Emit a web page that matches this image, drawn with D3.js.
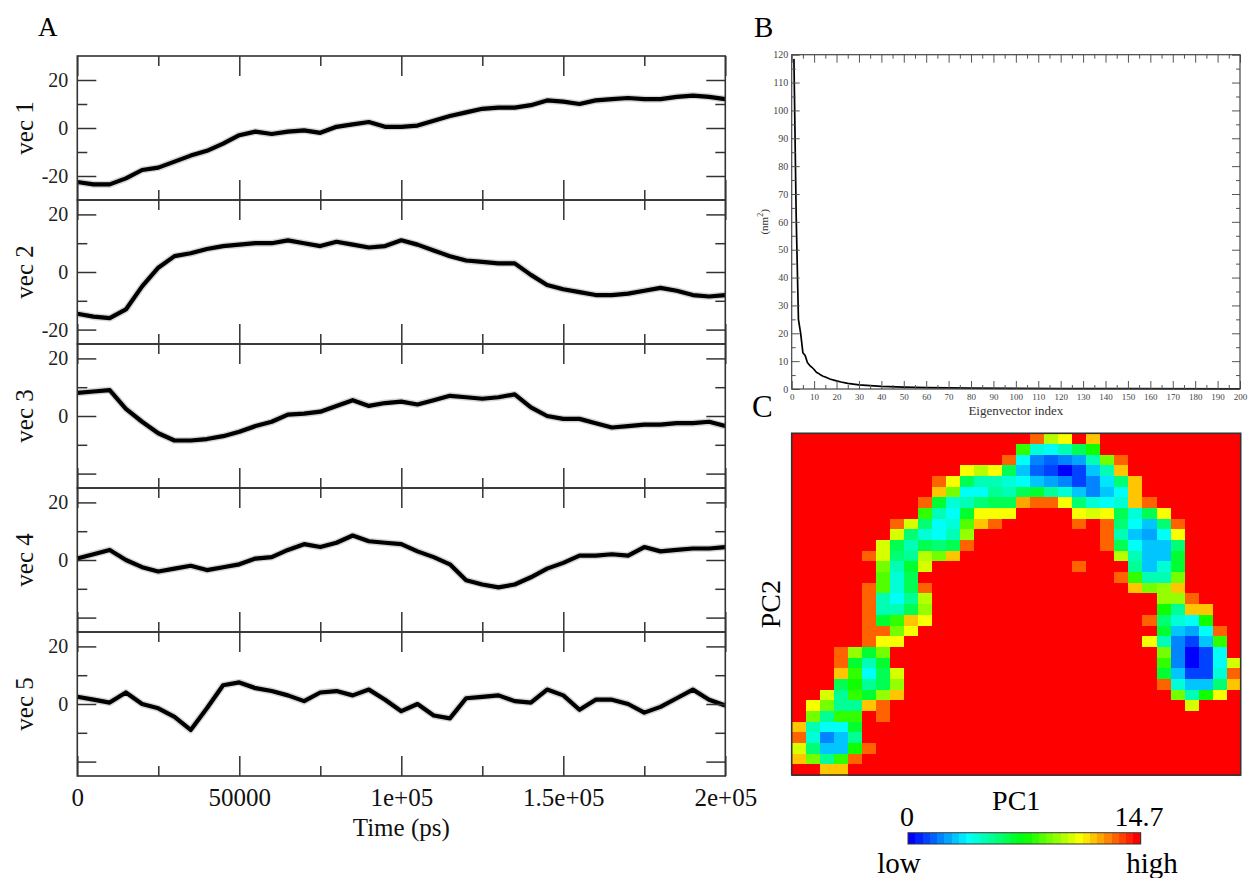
<!DOCTYPE html>
<html>
<head>
<meta charset="utf-8">
<script src="https://cdn.jsdelivr.net/npm/d3@7"></script>
<style>
  body { margin: 0; background: #fff; }
  svg text { font-family: "Liberation Serif", "Times New Roman", serif; }
</style>
</head>
<body>
<svg id="fig" width="1248" height="878"></svg>
<script>
// ---------- data: panel A, projections on eigenvectors 1-5 (sampled every 5 ns) ----------
const timeK = [0, 5, 10, 15, 20, 25, 30, 35, 40, 45, 50, 55, 60, 65, 70, 75, 80, 85, 90, 95,
  100, 105, 110, 115, 120, 125, 130, 135, 140, 145, 150, 155, 160, 165, 170, 175, 180, 185, 190, 195, 200];

const vec1 = [-22.5, -23.5, -23.5, -21, -17.5, -16.5, -14, -11.5, -9.5, -6.5, -3, -1.5, -2.5, -1.5, -1, -2,
  0.5, 1.5, 2.5, 0.5, 0.5, 1, 3, 5, 6.5, 8, 8.5, 8.5, 9.5, 11.5, 11, 10, 11.5, 12, 12.5, 12, 12, 13, 13.5, 13, 12];
const vec2 = [-14.5, -15.5, -16, -13, -5, 1.5, 5.5, 6.5, 8, 9, 9.5, 10, 10, 11, 10, 9, 10.5, 9.5, 8.5, 9,
  11, 9.5, 7.5, 5.5, 4, 3.5, 3, 3, -1, -4.5, -6, -7, -8, -8, -7.5, -6.5, -5.5, -6.5, -8, -8.5, -8];
const vec3 = [8, 8.5, 9, 2.5, -2, -6, -8.5, -8.5, -8, -7, -5.5, -3.5, -2, 0.5, 0.8, 1.5, 3.5, 5.5, 3.5, 4.5,
  5, 4, 5.5, 7, 6.5, 6, 6.5, 7.5, 3, 0, -1, -1, -2.5, -4, -3.5, -3, -3, -2.5, -2.5, -2, -3.5];
const vec4 = [0.5, 2, 3.5, 0, -2.5, -4, -3, -2, -3.5, -2.5, -1.5, 0.5, 1, 3.5, 5.5, 4.5, 6, 8.5, 6.5, 6,
  5.5, 3, 1, -1.5, -7, -8.5, -9.5, -8.5, -6, -3, -1, 1.5, 1.5, 2, 1.5, 4.5, 3, 3.5, 4, 4, 4.5];
const vec5 = [2.5, 1.5, 0.5, 4, 0, -1.5, -4.5, -9, -1.5, 6.5, 7.5, 5.5, 4.5, 3, 1, 4, 4.5, 3, 5, 1.5,
  -2.5, 0, -4, -5, 2, 2.5, 3, 1, 0.5, 5, 3, -2, 1.5, 1.5, 0, -3, -1, 2, 5, 1.5, -0.5];

const vecNames = ["vec 1", "vec 2", "vec 3", "vec 4", "vec 5"];
const vecRange = [30, 25, 25, 25, 25];
const vecTickLabels = [[20, 0, -20], [20, 0, -20], [20, 0], [20, 0], [20, 0]];
const timeTicks = [0, 50000, 100000, 150000, 200000];
const timeTickText = ["0", "50000", "1e+05", "1.5e+05", "2e+05"];

// ---------- data: panel B, eigenvalues ----------
const eigIndex = [1, 2, 3, 4, 5, 6, 7, 8, 9, 10, 11, 12, 13, 14, 15, 17, 20, 22, 25, 30, 35, 40, 50, 60, 70, 80, 100, 120, 150, 200];
const eigValue = [118.5, 62, 25, 20, 13, 12, 9.5, 8.5, 7.8, 7, 6, 5.6, 5, 4.6, 4.3, 3.6, 2.9, 2.5, 2, 1.5, 1.2, 0.95, 0.7, 0.5, 0.4, 0.3, 0.2, 0.15, 0.1, 0.05];

// ---------- data: panel C, free energy on PC1/PC2 (32 x 32 levels, '.' = max) ----------
const densityMax = 14.7;
const levelChars = "0123456789abcdefghijklmnopqrstuv";
const densityRows = [
  ".................sln.p..........",
  "................h98adg..........",
  "...............s84345ajs........",
  "............nlnd632026ap........",
  "..........sndaa98654247cp.......",
  "..........pj88badeb96468p.......",
  ".........se9acddqssnc989ps......",
  ".........ha8ennn....nmnd9dn.....",
  ".......smc89ips.....s.sc86cs....",
  ".......mc98ak.........sa658n....",
  "......mdadcds.........sd866c....",
  ".....smcbljp...........la66e....",
  "......jaem..........s...b69e....",
  "......i9d..............shaaj....",
  ".....si9ds..............pjkp....",
  ".....sa8bl................kks...",
  ".....saadk................gbpp..",
  ".....sehpn...............sc98g..",
  ".....ssjn.................e658s.",
  ".....snn.................na426h.",
  "...skej...................j4028.",
  "...seae...................h4028m",
  "...ph8dm..................e6229s",
  "...dgbdk..................s966cp",
  "..mbhekp...................jagn.",
  ".njbbps.....................m...",
  ".jbhh.s.........................",
  "pa88e...........................",
  "s946b...........................",
  "mc66gs..........................",
  "pjbhs...........................",
  "..pp............................"
];

// ---------- drawing ----------
const svg = d3.select('#fig');
svg.append('rect').attr('width', 1248).attr('height', 878).attr('fill', '#fff');

const ink = '#333';

function styleAxis(sel, size, color) {
  sel.select('.domain').remove();
  sel.attr('font-family', null).attr('font-size', null);
  sel.selectAll('line').attr('stroke', ink).attr('stroke-width', 1.5);
  sel.selectAll('text').attr('font-size', size).attr('fill', color || '#222');
}

// ===== Panel A =====
const vecSeries = [vec1, vec2, vec3, vec4, vec5];
const ax = d3.scaleLinear().domain([0, 200000]).range([77.3, 725.3]);
const aTop = 56, aH = 144;
const minorTime = [25000, 75000, 125000, 175000];

vecSeries.forEach((vals, i) => {
  const top = aTop + i * aH, bottom = top + aH;
  const y = d3.scaleLinear().domain([-vecRange[i], vecRange[i]]).range([bottom, top]);
  const g = svg.append('g');

  const line = d3.line().x((d, j) => ax(timeK[j] * 1000)).y(d => y(d));
  // soft halo to imitate the dense, noisy trajectory band
  g.append('path').datum(vals).attr('d', line)
    .attr('fill', 'none').attr('stroke', '#777').attr('stroke-width', 7).attr('stroke-opacity', 0.3)
    .attr('stroke-linejoin', 'round');
  g.append('path').datum(vals).attr('d', line)
    .attr('fill', 'none').attr('stroke', '#000').attr('stroke-width', 4.2)
    .attr('stroke-linejoin', 'round');

  // y ticks, left and right, pointing inward
  g.append('g').attr('transform', `translate(${ax.range()[0]},0)`)
    .call(d3.axisLeft(y).tickValues([-20, 0, 20]).tickSize(-19).tickPadding(9)
      .tickFormat(d => vecTickLabels[i].includes(d) ? String(d) : ''))
    .call(s => styleAxis(s, 20));
  g.append('g').attr('transform', `translate(${ax.range()[0]},0)`)
    .call(d3.axisLeft(y).tickValues([-10, 10]).tickSize(-10).tickFormat(''))
    .call(s => styleAxis(s, 20));
  g.append('g').attr('transform', `translate(${ax.range()[1]},0)`)
    .call(d3.axisRight(y).tickValues([-20, 0, 20]).tickSize(-19).tickFormat(''))
    .call(s => styleAxis(s, 20));
  g.append('g').attr('transform', `translate(${ax.range()[1]},0)`)
    .call(d3.axisRight(y).tickValues([-10, 10]).tickSize(-10).tickFormat(''))
    .call(s => styleAxis(s, 20));

  // x ticks, top and bottom, pointing inward
  g.append('g').attr('transform', `translate(0,${top})`)
    .call(d3.axisTop(ax).tickValues(timeTicks).tickSize(-20).tickFormat(''))
    .call(s => styleAxis(s, 25));
  g.append('g').attr('transform', `translate(0,${top})`)
    .call(d3.axisTop(ax).tickValues(minorTime).tickSize(-10).tickFormat(''))
    .call(s => styleAxis(s, 25));
  g.append('g').attr('transform', `translate(0,${bottom})`)
    .call(d3.axisBottom(ax).tickValues(timeTicks).tickSize(-20).tickPadding(12)
      .tickFormat((d, k) => i === vecSeries.length - 1 ? timeTickText[k] : ''))
    .call(s => styleAxis(s, 25, '#111'));
  g.append('g').attr('transform', `translate(0,${bottom})`)
    .call(d3.axisBottom(ax).tickValues(minorTime).tickSize(-10).tickFormat(''))
    .call(s => styleAxis(s, 25));

  g.append('rect').attr('x', ax.range()[0]).attr('y', top)
    .attr('width', ax.range()[1] - ax.range()[0]).attr('height', aH)
    .attr('fill', 'none').attr('stroke', ink).attr('stroke-width', 1.6);

  g.append('text').attr('transform', `translate(33,${top + aH / 2}) rotate(-90)`)
    .attr('text-anchor', 'middle').attr('font-size', 25).attr('fill', '#111')
    .text(vecNames[i]);
});

svg.append('text').attr('x', (ax.range()[0] + ax.range()[1]) / 2).attr('y', 836)
  .attr('text-anchor', 'middle').attr('font-size', 25).attr('fill', '#111').text('Time (ps)');
svg.append('text').attr('x', 38).attr('y', 36).attr('font-size', 27).attr('fill', '#000').text('A');

// ===== Panel B =====
const bx = d3.scaleLinear().domain([0, 200]).range([791.7, 1240]);
const by = d3.scaleLinear().domain([0, 120]).range([389, 54.7]);
const gB = svg.append('g');

gB.append('path').datum(eigIndex.map((d, k) => [d, eigValue[k]]))
  .attr('d', d3.line().x(d => bx(d[0])).y(d => by(d[1])))
  .attr('fill', 'none').attr('stroke', '#000').attr('stroke-width', 1.7).attr('stroke-linejoin', 'round');

const bMajY = d3.range(0, 121, 10), bMinY = d3.range(5, 120, 10);
const bMajX = d3.range(0, 201, 10), bMinX = d3.range(5, 200, 10);
function styleB(s, size) {
  s.select('.domain').remove();
  s.attr('font-family', null).attr('font-size', null);
  s.selectAll('line').attr('stroke', '#555').attr('stroke-width', 1);
  s.selectAll('text').attr('font-size', size).attr('fill', '#444');
}
gB.append('g').attr('transform', `translate(${bx(0)},0)`)
  .call(d3.axisLeft(by).tickValues(bMajY).tickSize(-8).tickPadding(3.5).tickFormat(d3.format('d')))
  .call(s => styleB(s, 10));
gB.append('g').attr('transform', `translate(${bx(0)},0)`)
  .call(d3.axisLeft(by).tickValues(bMinY).tickSize(-4).tickFormat('')).call(s => styleB(s, 10));
gB.append('g').attr('transform', `translate(${bx(200)},0)`)
  .call(d3.axisRight(by).tickValues(bMajY).tickSize(-8).tickFormat('')).call(s => styleB(s, 10));
gB.append('g').attr('transform', `translate(${bx(200)},0)`)
  .call(d3.axisRight(by).tickValues(bMinY).tickSize(-4).tickFormat('')).call(s => styleB(s, 10));
gB.append('g').attr('transform', `translate(0,${by(0)})`)
  .call(d3.axisBottom(bx).tickValues(bMajX).tickSize(-8).tickPadding(4.5).tickFormat(d3.format('d')))
  .call(s => styleB(s, 9));
gB.append('g').attr('transform', `translate(0,${by(0)})`)
  .call(d3.axisBottom(bx).tickValues(bMinX).tickSize(-4).tickFormat('')).call(s => styleB(s, 9));
gB.append('g').attr('transform', `translate(0,${by(120)})`)
  .call(d3.axisTop(bx).tickValues(bMajX).tickSize(-8).tickFormat('')).call(s => styleB(s, 9));
gB.append('g').attr('transform', `translate(0,${by(120)})`)
  .call(d3.axisTop(bx).tickValues(bMinX).tickSize(-4).tickFormat('')).call(s => styleB(s, 9));

gB.append('rect').attr('x', bx(0)).attr('y', by(120)).attr('width', bx(200) - bx(0)).attr('height', by(0) - by(120))
  .attr('fill', 'none').attr('stroke', '#444').attr('stroke-width', 1.2);

gB.append('text').attr('x', (bx(0) + bx(200)) / 2).attr('y', 415).attr('text-anchor', 'middle')
  .attr('font-size', 13).attr('fill', '#333').text('Eigenvector index');
const nmLabel = gB.append('text').attr('transform', `translate(768,${(by(0) + by(120)) / 2}) rotate(-90)`)
  .attr('text-anchor', 'middle').attr('font-size', 11).attr('fill', '#333');
nmLabel.append('tspan').text('(nm');
nmLabel.append('tspan').attr('dy', -5).attr('font-size', 8).text('2');
nmLabel.append('tspan').attr('dy', 5).text(')');
svg.append('text').attr('x', 754).attr('y', 36.5).attr('font-size', 29).attr('fill', '#000').text('B');

// ===== Panel C =====
const nCells = 32;
const levelMax = levelChars.length - 1;
const densityValues = densityRows.map(r => r.padEnd(nCells, '.').split('')
  .map(ch => (ch === '.' ? levelMax : levelChars.indexOf(ch)) / levelMax * densityMax));
const heatColor = v => {
  const k = Math.round(v / densityMax * levelMax);
  return d3.hsl(240 * (1 - k / levelMax), 1, 0.5).formatHex();
};

const cx = d3.scaleBand().domain(d3.range(nCells)).range([791.7, 1240.7]);
const cy = d3.scaleBand().domain(d3.range(nCells)).range([433.3, 775]);
const cells = [];
densityValues.forEach((row, r) => row.forEach((v, c) => cells.push({ r, c, v })));

const gC = svg.append('g');
gC.selectAll('rect.cell').data(cells).enter().append('rect').attr('class', 'cell')
  .attr('x', d => cx(d.c)).attr('y', d => cy(d.r))
  .attr('width', cx.bandwidth() + 0.5).attr('height', cy.bandwidth() + 0.5)
  .attr('fill', d => heatColor(d.v)).attr('shape-rendering', 'crispEdges');
gC.append('rect').attr('x', cx.range()[0]).attr('y', cy.range()[0])
  .attr('width', cx.range()[1] - cx.range()[0]).attr('height', cy.range()[1] - cy.range()[0])
  .attr('fill', 'none').attr('stroke', '#333').attr('stroke-width', 1.6);

svg.append('text').attr('x', 752).attr('y', 417).attr('font-size', 31).attr('fill', '#000').text('C');
gC.append('text').attr('x', (cx.range()[0] + cx.range()[1]) / 2).attr('y', 810)
  .attr('text-anchor', 'middle').attr('font-size', 28).attr('fill', '#000').text('PC1');
gC.append('text').attr('transform', `translate(780,${(cy.range()[0] + cy.range()[1]) / 2}) rotate(-90)`)
  .attr('text-anchor', 'middle').attr('font-size', 28).attr('fill', '#000').text('PC2');

// colour bar
const barLevels = d3.range(levelMax + 1);
const barX = d3.scaleBand().domain(barLevels).range([908, 1140.7]);
gC.selectAll('rect.bar').data(barLevels).enter().append('rect').attr('class', 'bar')
  .attr('x', d => barX(d)).attr('y', 832.7).attr('width', barX.bandwidth() + 0.4).attr('height', 11.3)
  .attr('fill', d => heatColor(d / levelMax * densityMax)).attr('shape-rendering', 'crispEdges');
gC.append('rect').attr('x', 908).attr('y', 832.7).attr('width', 232.7).attr('height', 11.3)
  .attr('fill', 'none').attr('stroke', '#333').attr('stroke-width', 1);
gC.append('text').attr('x', 907).attr('y', 826).attr('text-anchor', 'middle').attr('font-size', 28).text('0');
gC.append('text').attr('x', 1139).attr('y', 826).attr('text-anchor', 'middle').attr('font-size', 28).text(d3.format('.1f')(densityMax));
gC.append('text').attr('x', 899).attr('y', 873).attr('text-anchor', 'middle').attr('font-size', 29).text('low');
gC.append('text').attr('x', 1152).attr('y', 873).attr('text-anchor', 'middle').attr('font-size', 29).text('high');
</script>
</body>
</html>
